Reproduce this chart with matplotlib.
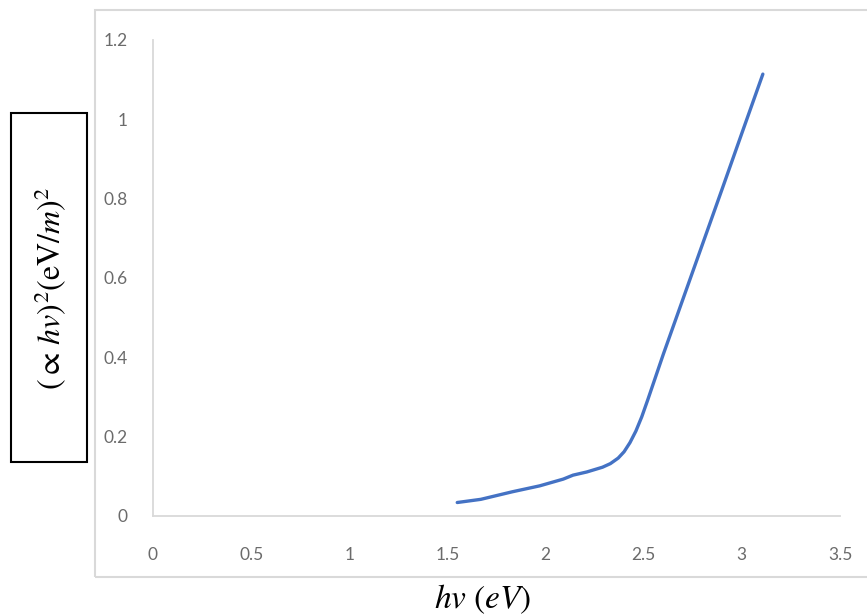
import matplotlib
matplotlib.use('Agg')
import matplotlib.pyplot as plt
import matplotlib.patches as patches

# values
hv = [1.55, 1.67, 1.83, 1.97, 2.09, 2.14, 2.21, 2.29, 2.33, 2.37, 2.40, 2.43, 2.46, 2.49, 2.52,
      2.60, 2.70, 2.80, 2.90, 3.00, 3.107]
alpha_hv2 = [0.034, 0.042, 0.061, 0.076, 0.093, 0.103, 0.111, 0.123, 0.132, 0.146, 0.162, 0.185,
             0.214, 0.250, 0.292, 0.408, 0.547, 0.686, 0.825, 0.965, 1.114]
x_ticks = [0, 0.5, 1, 1.5, 2, 2.5, 3, 3.5]
x_tick_labels = ['0', '0.5', '1', '1.5', '2', '2.5', '3', '3.5']
y_ticks = [0, 0.2, 0.4, 0.6, 0.8, 1, 1.2]
y_tick_labels = ['0', '0.2', '0.4', '0.6', '0.8', '1', '1.2']

plt.rcParams['mathtext.fontset'] = 'stix'
tick_font = ['Liberation Sans Narrow', 'Lato', 'DejaVu Sans']
c_line = '#4472C4'; c_axis = '#D9D9D9'; c_tick = '#6b6b6b'

W, H = 867, 615
fig = plt.figure(figsize=(W / 100, H / 100), dpi=100)

# chart area border (Excel style)
fig.patches.append(patches.Rectangle((95 / W, 1 - 577 / H), 790 / W, 567 / H,
                                     transform=fig.transFigure, fill=False,
                                     edgecolor=c_axis, linewidth=1.5))

ax = fig.add_axes([153 / W, 1 - 516 / H, 687 / W, 476 / H])
ax.plot(hv, alpha_hv2, color=c_line, linewidth=2.4, solid_capstyle='round',
        solid_joinstyle='round')
ax.set_xlim(0, 3.5)
ax.set_ylim(0, 1.2)
ax.set_xticks(x_ticks)
ax.set_xticklabels(x_tick_labels)
ax.set_yticks(y_ticks)
ax.set_yticklabels(y_tick_labels)
ax.tick_params(length=0, colors=c_tick, labelsize=12.5)
ax.tick_params(axis='x', pad=22)
ax.tick_params(axis='y', pad=18)
for lab in ax.get_xticklabels() + ax.get_yticklabels():
    lab.set_family(tick_font)
for s in ['top', 'right']:
    ax.spines[s].set_visible(False)
for s in ['left', 'bottom']:
    ax.spines[s].set_color(c_axis)
    ax.spines[s].set_linewidth(1.3)

# boxed y label
fig.patches.append(patches.Rectangle((11 / W, 1 - 462 / H), 76 / W, 349 / H,
                                     transform=fig.transFigure, fill=False,
                                     edgecolor='black', linewidth=1.5))
fig.text(51 / W, 1 - 288 / H, r'$(\propto\, hv)^{2}(\mathrm{eV}/m)^{2}$',
         rotation=90, ha='center', va='center', fontsize=23)

fig.text(483 / W, 1 - 599 / H, r'$hv\ (eV)$', ha='center', va='center', fontsize=24)

fig.savefig('out.png', dpi=100)
